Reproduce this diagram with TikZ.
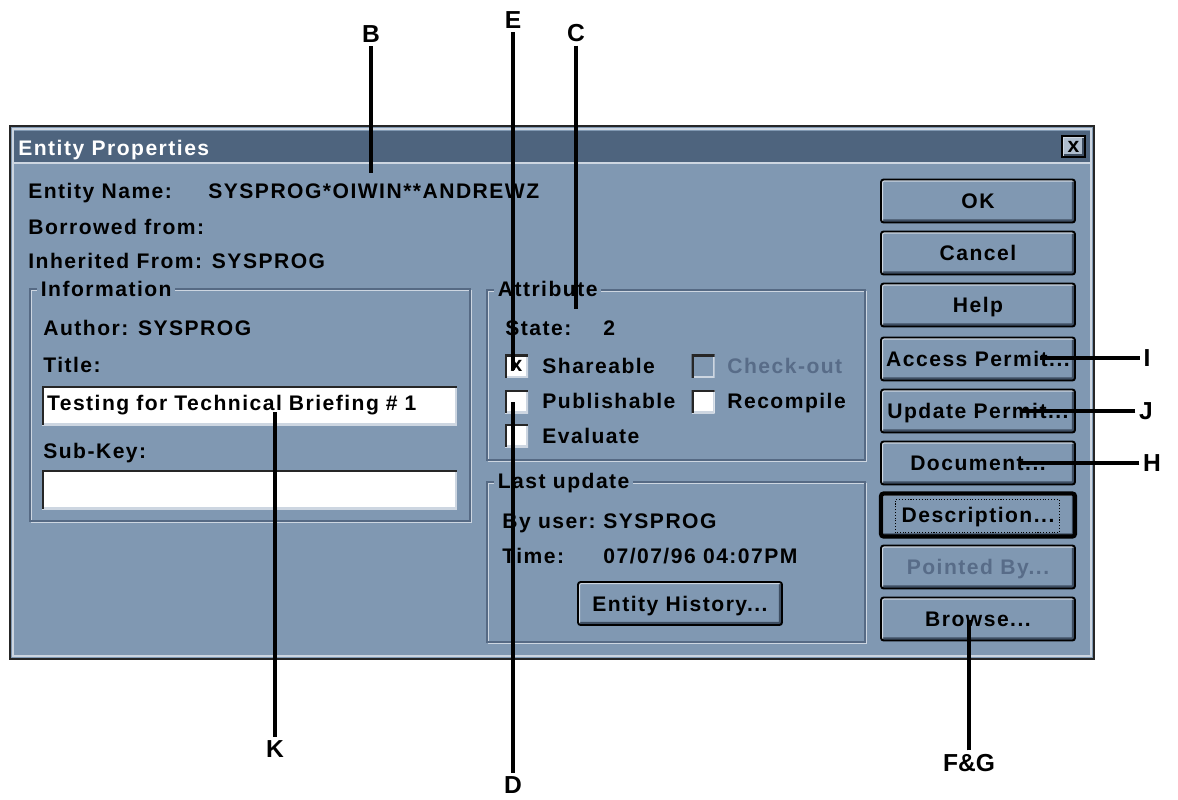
\documentclass[tikz,border=0pt]{standalone}
\usepackage{fontspec}
\newfontfamily\dlgfamily[LetterSpace=7]{Liberation Sans}
\newfontfamily\callfamily{Liberation Sans}
\newcommand{\dlgfont}{\dlgfamily\bfseries\fontsize{12}{14}\selectfont}
\newcommand{\callfont}{\callfamily\bfseries\fontsize{14}{16}\selectfont}
\definecolor{dlgbg}{RGB}{128,152,178}
\definecolor{titlebg}{RGB}{78,100,126}
\definecolor{bevelhi}{RGB}{205,214,225}
\definecolor{bevelsh}{RGB}{62,78,98}
\definecolor{etchdk}{RGB}{86,106,132}
\definecolor{distext}{RGB}{88,108,136}

\begin{document}
\begin{tikzpicture}[
        x               = 0.02cm,
        y               = -0.02cm,
        txt/.style      = {font=\dlgfont, anchor=base west, inner sep=0pt},
        distxt/.style   = {txt, text=distext},
        grplabel/.style = {txt, fill=dlgbg, inner xsep=2pt},
        raised/.style   = {path picture={
                \draw[bevelsh, line width=3.6pt] (path picture bounding box.south west) -- (path picture bounding box.south east) -- (path picture bounding box.north east);
                \draw[bevelhi, line width=2.4pt] (path picture bounding box.south west) -- (path picture bounding box.north west) -- (path picture bounding box.north east);
            }},
        sunken/.style   = {path picture={
                \draw[bevelhi, line width=2pt] (path picture bounding box.south west) -- (path picture bounding box.south east) -- (path picture bounding box.north east);
                \draw[black!85, line width=2.4pt] (path picture bounding box.south west) -- (path picture bounding box.north west) -- (path picture bounding box.north east);
            }},
        btn/.style      = {raised, draw=black, line width=1.1pt, fill=dlgbg, rounded corners=1.5pt,
                           minimum width=3.88cm, minimum height=0.86cm, inner sep=0pt,
                           font=\dlgfont, text height=8.6pt, text depth=0pt},
        field/.style    = {sunken, fill=white, minimum height=0.78cm, text width=8.1cm,
                           inner xsep=0.1cm, inner ysep=0pt, align=left, font=\dlgfont},
        chk/.style      = {sunken, fill=white, minimum size=0.46cm, inner sep=0pt, font=\dlgfont},
        callout/.style  = {font=\callfont, inner sep=2pt},
        lead/.style     = {line width=2pt},
      ]
    \useasboundingbox (0,0) rectangle (1178,799);

    % window frame and title bar
    \draw[fill=dlgbg, draw=black!85, line width=1.2pt] (10,126) rectangle (1094,659);
    \draw[bevelhi, line width=0.8pt] (13,129) rectangle (1091,656);
    \fill[titlebg] (14,131) rectangle (1090,162);
    \draw[bevelhi, line width=0.8pt] (14,163) -- (1090,163);
    \node[txt, text=white] (title) at (18,155) {Entity Properties};
    \node[raised, draw=black, line width=0.8pt, fill=bevelhi!60!dlgbg, minimum width=0.46cm,
          minimum height=0.42cm, inner sep=0pt, font=\dlgfont] (close) at (1073.5,146.5) {x};

    % header lines
    \node[txt] (entname)  at (28,198)  {Entity Name:};
    \node[txt] (entvalue) at (208,198) {SYSPROG*OIWIN**ANDREWZ};
    \node[txt] (borrowed) at (28,234)  {Borrowed from:};
    \node[txt] (inherit)  at (28,268)  {Inherited From: SYSPROG};

    % Information group
    \draw[bevelhi, line width=0.8pt] (31.5,290.5) rectangle (471.5,522.5);
    \draw[etchdk, line width=0.8pt] (30,289) rectangle (470,521);
    \node[grplabel] (infolbl) at (37,296) {Information};
    \node[txt] (author)   at (43,335) {Author: SYSPROG};
    \node[txt] (titlelbl) at (43,372) {Title:};
    \node[field] (titlefld) at (249.5,405.5) {Testing for Technical Briefing \# 1};
    \node[txt] (subkey)   at (43,458) {Sub-Key:};
    \node[field] (subfld) at (249.5,489.5) {};

    % Attribute group
    \draw[bevelhi, line width=0.8pt] (488.5,291.5) rectangle (866.5,461.5);
    \draw[etchdk, line width=0.8pt] (487,290) rectangle (865,460);
    \node[grplabel] (attrlbl) at (494,296) {Attribute};
    \node[txt] (state)    at (505,335) {State:};
    \node[txt] (stateval) at (603,335) {2};
    \node[chk] (share)  at (516.5,366)   {x};
    \node[txt] (sharelbl) at (542,373) {Shareable};
    \node[chk] (publ)   at (516.5,401.5) {};
    \node[txt] (publlbl)  at (542,408) {Publishable};
    \node[chk] (eval)   at (516.5,435.5) {};
    \node[txt] (evallbl)  at (542,443) {Evaluate};
    \node[chk, fill=dlgbg] (chkout) at (703,366) {};
    \node[distxt] (chkoutlbl) at (727,373) {Check-out};
    \node[chk] (recomp) at (703,401.5) {};
    \node[txt] (recomplbl) at (727,408) {Recompile};

    % Last update group
    \draw[bevelhi, line width=0.8pt] (488.5,483.5) rectangle (866.5,643.5);
    \draw[etchdk, line width=0.8pt] (487,482) rectangle (865,642);
    \node[grplabel] (lastlbl) at (494,488) {Last update};
    \node[txt] (byuser)   at (502,528) {By user:};
    \node[txt] (userval)  at (603,528) {SYSPROG};
    \node[txt] (timelbl)  at (502,563) {Time:};
    \node[txt] (timeval)  at (603,563) {07/07/96 04:07PM};
    \node[btn, minimum width=4.08cm] (history) at (680,603.5) {Entity History...};

    % buttons
    \node[btn] (ok)      at (978,201) {OK};
    \node[btn] (cancel)  at (978,253) {Cancel};
    \node[btn] (help)    at (978,305) {Help};
    \node[btn] (access)  at (978,359) {Access Permit...};
    \node[btn] (update)  at (978,411) {Update Permit...};
    \node[btn] (docu)    at (978,463) {Document...};
    \node[btn, line width=2.4pt] (desc) at (978,515) {Description...};
    \draw[densely dotted, line width=0.6pt] ([shift={(0.34cm,0.12cm)}]desc.south west) rectangle ([shift={(-0.36cm,-0.16cm)}]desc.north east);
    \node[btn, text=distext] (pointed) at (978,567) {Pointed By...};
    \node[btn] (browse)  at (978,619) {Browse...};

    % callouts
    \node[callout] (labB) at (371,34) {B};
    \coordinate (tipB) at (371,173);
    \draw[lead] (labB) -- (tipB);

    \node[callout] (labE) at (513,20) {E};
    \coordinate (tipE) at (513,370);
    \draw[lead] (labE) -- (tipE);

    \node[callout] (labC) at (576,33) {C};
    \coordinate (tipC) at (576,309);
    \draw[lead] (labC) -- (tipC);

    \node[callout] (labD) at (513,785) {D};
    \coordinate (tipD) at (513,402);
    \draw[lead] (labD) -- (tipD);

    \node[callout] (labK) at (275,749) {K};
    \coordinate (tipK) at (275,412);
    \draw[lead] (labK) -- (tipK);

    \node[callout] (labFG) at (969,763) {F\&G};
    \coordinate (tipFG) at (969,620);
    \draw[lead] (labFG) -- (tipFG);

    \node[callout] (labI) at (1147,358) {I};
    \coordinate (tipI) at (1040,358);
    \draw[lead] (labI) -- (tipI);

    \node[callout] (labJ) at (1146,411) {J};
    \coordinate (tipJ) at (1020,411);
    \draw[lead] (labJ) -- (tipJ);

    \node[callout] (labH) at (1152,463) {H};
    \coordinate (tipH) at (1020,463);
    \draw[lead] (labH) -- (tipH);
\end{tikzpicture}
\end{document}
